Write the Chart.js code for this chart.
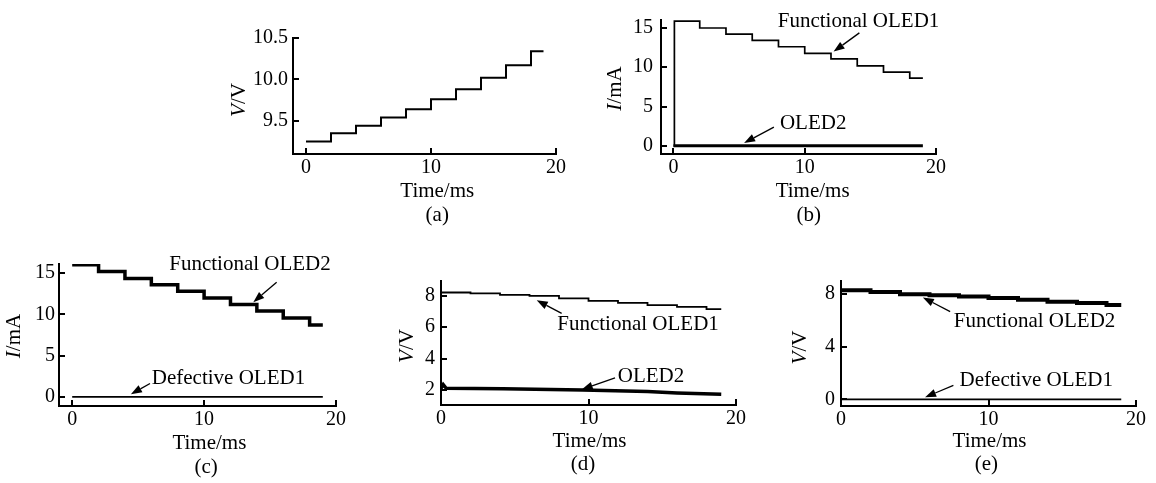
<!DOCTYPE html>
<html>
<head>
<meta charset="utf-8">
<script src="https://cdn.jsdelivr.net/npm/chart.js@4.4.1/dist/chart.umd.min.js"></script>
<style>
  html, body { margin: 0; padding: 0; background: #fff; }
  #fig { position: relative; width: 1156px; height: 483px; overflow: hidden; }
  #fig canvas { position: absolute; left: 0; top: 0; }
</style>
</head>
<body>
<div id="fig"></div>
<script>
'use strict';

// ── Data ──────────────────────────────────────────────────────────────────────
const timeTicks = [0, 10, 20];              // ms
const stepT     = [0, 2, 4, 6, 8, 10, 12, 14, 16, 18, 19];
const flatT     = [0, 19];
const zeroTrace = [0, 0];

// (a) drive voltage of the functional pixel, V
const aTicks = [9.5, 10.0, 10.5];
const aVolt  = [9.25, 9.35, 9.44, 9.54, 9.64, 9.76, 9.88, 10.02, 10.17, 10.34, 10.34];

// (b) current, mA
const bTicks = [0, 5, 10, 15];
const bTime  = [0, 0.07, 2, 4, 6, 8, 10, 12, 14, 16, 18, 19];
const bOled1 = [0, 15.85, 14.98, 14.2, 13.4, 12.6, 11.75, 11.05, 10.16, 9.36, 8.6, 8.6];

// (c) current, mA
const cTicks = [0, 5, 10, 15];
const cOled2 = [16.0, 15.2, 14.35, 13.6, 12.8, 11.98, 11.2, 10.4, 9.56, 8.7, 8.7];

// (d) voltage, V
const dTicks  = [2, 4, 6, 8];
const dOled1  = [8.20, 8.14, 8.05, 7.99, 7.82, 7.67, 7.54, 7.40, 7.29, 7.14, 7.14];
const dOled2T = [0, 0.15, 0.35, 4.2, 9.6, 14, 16, 19];
const dOled2  = [2.1, 2.35, 2.11, 2.09, 2.0, 1.9, 1.82, 1.73];

// (e) voltage, V
const eTicks = [0, 4, 8];
const eOled2 = [8.30, 8.17, 8.0, 7.92, 7.82, 7.70, 7.57, 7.42, 7.32, 7.17, 7.17];

// ── Helpers ───────────────────────────────────────────────────────────────────
const FONT = "'Liberation Serif', 'Times New Roman', serif";
const W = 1156, H = 483, Y_W = 40, X_H = 30;
const pts = (xs, ys) => xs.map((x, i) => ({ x, y: ys[i] }));

Chart.defaults.font.family = FONT;
Chart.defaults.font.size = 20;
Chart.defaults.color = '#000';

function arrow(ctx, x1, y1, x2, y2) {
  const a = Math.atan2(y2 - y1, x2 - x1), L = 11, hw = 4;
  const bx = x2 - L * Math.cos(a), by = y2 - L * Math.sin(a);
  ctx.lineWidth = 1.3;
  ctx.beginPath(); ctx.moveTo(x1, y1); ctx.lineTo(bx, by); ctx.stroke();
  ctx.beginPath();
  ctx.moveTo(x2, y2);
  ctx.lineTo(bx - hw * Math.sin(a), by + hw * Math.cos(a));
  ctx.lineTo(bx + hw * Math.sin(a), by - hw * Math.cos(a));
  ctx.closePath(); ctx.fill();
}

// inward ticks, axis titles, panel letter and arrow notes
const decor = {
  id: 'decor',
  afterDraw(chart, args, o) {
    const { ctx, chartArea: ca, scales: { x, y } } = chart;
    ctx.save();
    ctx.strokeStyle = '#000'; ctx.fillStyle = '#000'; ctx.lineWidth = 2;
    ctx.beginPath();
    x.ticks.forEach(t => {
      const px = Math.round(x.getPixelForValue(t.value));
      ctx.moveTo(px, ca.bottom); ctx.lineTo(px, ca.bottom - 6);
    });
    y.ticks.forEach(t => {
      const py = Math.round(y.getPixelForValue(t.value));
      ctx.moveTo(ca.left, py); ctx.lineTo(ca.left + 6, py);
    });
    ctx.stroke();

    const normal = `21px ${FONT}`, italic = `italic 21px ${FONT}`;
    ctx.font = normal; ctx.textAlign = 'center'; ctx.textBaseline = 'middle';
    ctx.fillText('Time/ms', x.getPixelForValue(o.xTitleAt), ca.bottom + o.titleDy[0]);
    ctx.fillText(o.label, x.getPixelForValue(o.labelAt), ca.bottom + o.titleDy[1]);

    // y title: italic symbol + upright unit, rotated
    const [sym, unit] = o.yTitle;
    ctx.save();
    ctx.translate(ca.left - o.yTitleDx, (ca.top + ca.bottom) / 2 + o.yTitleDy);
    ctx.rotate(-Math.PI / 2);
    ctx.font = italic; const w1 = ctx.measureText(sym).width;
    ctx.font = normal; const w2 = ctx.measureText(unit).width;
    ctx.textAlign = 'left';
    ctx.font = italic; ctx.fillText(sym, -(w1 + w2) / 2, 0);
    ctx.font = normal; ctx.fillText(unit, -(w1 + w2) / 2 + w1, 0);
    ctx.restore();

    (o.notes || []).forEach(n => {
      ctx.font = normal; ctx.textAlign = 'center'; ctx.textBaseline = 'middle';
      ctx.fillText(n.text, x.getPixelForValue(n.at[0]), y.getPixelForValue(n.at[1]));
      arrow(ctx,
        x.getPixelForValue(n.from[0]), y.getPixelForValue(n.from[1]),
        x.getPixelForValue(n.tip[0]), y.getPixelForValue(n.tip[1]));
    });
    ctx.restore();
  }
};

function panel(p) {
  const cv = document.createElement('canvas');
  cv.width = W; cv.height = H;
  document.getElementById('fig').appendChild(cv);
  const [left, top, right, bottom] = p.box;
  return new Chart(cv, {
    type: 'line',
    data: {
      datasets: p.series.map(s => ({
        data: s.data,
        borderColor: '#000',
        borderWidth: s.width,
        stepped: s.stepped ? 'before' : false,
        pointRadius: 0,
        fill: false,
        tension: 0,
      }))
    },
    options: {
      responsive: false,
      animation: false,
      events: [],
      layout: { padding: { left: left - Y_W, top, right: W - right, bottom: H - bottom - X_H } },
      plugins: { legend: { display: false }, tooltip: { enabled: false }, decor: p.decor },
      scales: {
        x: {
          type: 'linear', min: p.x[0], max: p.x[1],
          afterBuildTicks: s => { s.ticks = timeTicks.map(v => ({ value: v })); },
          afterFit: s => { s.height = X_H; },
          grid: { display: false, drawTicks: false },
          border: { display: true, width: 2, color: '#000' },
          ticks: { padding: 2, maxRotation: 0, callback: v => String(v) },
        },
        y: {
          type: 'linear', min: p.y[0], max: p.y[1],
          afterBuildTicks: s => { s.ticks = p.yTicks.map(v => ({ value: v })); },
          afterFit: s => { s.width = Y_W; },
          grid: { display: false, drawTicks: false },
          border: { display: true, width: 2, color: '#000' },
          ticks: { padding: p.tickPad, callback: v => v.toFixed(p.dec) },
        }
      }
    },
    plugins: [decor]
  });
}

// ── Panels ────────────────────────────────────────────────────────────────────
panel({
  box: [293, 38, 556, 154], x: [-1.04, 20], y: [9.1, 10.5], yTicks: aTicks, dec: 1, tickPad: 5,
  series: [{ data: pts(stepT, aVolt), width: 2, stepped: true }],
  decor: { xTitleAt: 10.5, labelAt: 10.5, label: '(a)', titleDy: [37, 61],
           yTitle: ['V', '/V'], yTitleDx: 54, yTitleDy: 4 }
});

panel({
  box: [661, 13, 936, 154], x: [-0.95, 20], y: [-1.04, 16], yTicks: bTicks, dec: 0, tickPad: 8,
  series: [
    { data: pts(bTime, bOled1), width: 1.7, stepped: true },
    { data: pts(flatT, zeroTrace), width: 3 },
  ],
  decor: { xTitleAt: 10.6, labelAt: 10.3, label: '(b)', titleDy: [37, 61],
           yTitle: ['I', '/mA'], yTitleDx: 45.5, yTitleDy: 1.5,
           notes: [
             { text: 'Functional OLED1', at: [14.1, 15.75], from: [14.16, 14.36], tip: [12.2, 11.98] },
             { text: 'OLED2', at: [10.64, 2.87], from: [7.65, 2.38], tip: [5.38, 0.36] },
           ] }
});

panel({
  box: [59, 264, 336, 406], x: [-1.0, 20], y: [-1.1, 16.1], yTicks: cTicks, dec: 0, tickPad: 4,
  series: [
    { data: pts(stepT, cOled2), width: 3.5, stepped: true },
    { data: pts(flatT, zeroTrace), width: 1.8 },
  ],
  decor: { xTitleAt: 10.4, labelAt: 10.15, label: '(c)', titleDy: [37, 61],
           yTitle: ['I', '/mA'], yTitleDx: 44.5, yTitleDy: 1,
           notes: [
             { text: 'Functional OLED2', at: [13.48, 16.0], from: [15.5, 13.9], tip: [13.73, 11.47] },
             { text: 'Defective OLED1', at: [11.85, 2.27], from: [5.9, 1.63], tip: [4.45, 0.33] },
           ] }
});

panel({
  box: [441, 281, 736, 405], x: [0, 20], y: [1.05, 8.93], yTicks: dTicks, dec: 0, tickPad: 6,
  series: [
    { data: pts(stepT, dOled1), width: 1.8, stepped: true },
    { data: pts(dOled2T, dOled2), width: 3.5 },
  ],
  decor: { xTitleAt: 10.07, labelAt: 9.63, label: '(d)', titleDy: [36, 59],
           yTitle: ['V', '/V'], yTitleDx: 33.5, yTitleDy: 3,
           notes: [
             { text: 'Functional OLED1', at: [13.36, 6.19], from: [8.18, 6.87], tip: [6.49, 7.71] },
             { text: 'OLED2', at: [14.24, 2.89], from: [11.8, 2.78], tip: [9.54, 2.04] },
           ] }
});

panel({
  box: [841, 281, 1136, 406], x: [0, 20], y: [-0.5, 9], yTicks: eTicks, dec: 0, tickPad: 6,
  series: [
    { data: pts(stepT, eOled2), width: 4, stepped: true },
    { data: pts(flatT, zeroTrace), width: 1.8 },
  ],
  decor: { xTitleAt: 10.07, labelAt: 9.86, label: '(e)', titleDy: [35, 58],
           yTitle: ['V', '/V'], yTitleDx: 41, yTitleDy: 4,
           notes: [
             { text: 'Functional OLED2', at: [13.12, 5.91], from: [7.4, 6.67], tip: [5.55, 7.75] },
             { text: 'Defective OLED1', at: [13.24, 1.44], from: [7.62, 1.06], tip: [5.7, 0.17] },
           ] }
});
</script>
</body>
</html>
